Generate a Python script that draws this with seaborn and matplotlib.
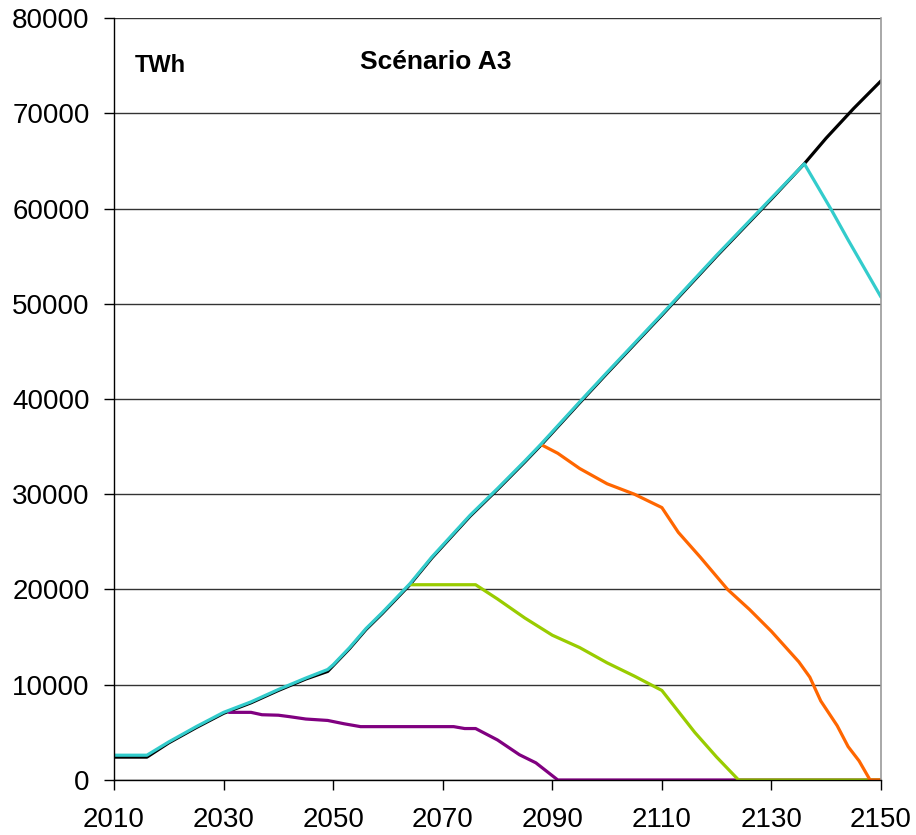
import matplotlib
matplotlib.use("Agg")
import matplotlib.pyplot as plt
import seaborn as sns

# courbe de base (noir)
base_years = [2010, 2016, 2020, 2025, 2030, 2035, 2040, 2045, 2049, 2050, 2053,
              2056, 2059, 2064, 2068, 2075, 2080, 2085, 2088, 2095, 2100, 2110,
              2120, 2130, 2136, 2140, 2145, 2150]
base_vals = [2400, 2400, 3900, 5500, 7000, 8100, 9400, 10600, 11400, 12000, 13800,
             15800, 17500, 20500, 23300, 27700, 30500, 33400, 35200, 39600, 42700,
             48800, 55000, 61000, 64700, 67400, 70500, 73400]

# scénario cyan
cyan_years = [2010, 2016, 2020, 2025, 2030, 2035, 2040, 2045, 2049, 2050, 2053,
              2056, 2059, 2064, 2068, 2075, 2080, 2085, 2088, 2095, 2100, 2110,
              2120, 2130, 2136, 2141, 2144, 2150]
cyan_vals = [2600, 2600, 4000, 5600, 7100, 8200, 9500, 10700, 11600, 12100, 13900,
             15900, 17600, 20600, 23400, 27800, 30600, 33500, 35300, 39700, 42800,
             48900, 55100, 61100, 64700, 59800, 56700, 50700]

# scénario orange
orange_years = [2088, 2091, 2095, 2100, 2105, 2110, 2113, 2117, 2122, 2126, 2130,
                2135, 2137, 2139, 2142, 2144, 2146, 2148, 2150]
orange_vals = [35200, 34300, 32700, 31100, 30000, 28600, 26000, 23400, 20000, 17900,
               15600, 12400, 10800, 8300, 5700, 3500, 2000, 0, 0]

# scénario vert
green_years = [2064, 2076, 2080, 2085, 2090, 2095, 2100, 2105, 2110, 2113, 2116,
               2120, 2124, 2150]
green_vals = [20500, 20500, 19000, 17000, 15200, 13900, 12300, 10900, 9400, 7200,
              5000, 2400, 0, 0]

# scénario violet
purple_years = [2031, 2035, 2037, 2040, 2042, 2045, 2049, 2052, 2055, 2072, 2074,
                2076, 2080, 2084, 2087, 2091, 2150]
purple_vals = [7100, 7100, 6850, 6800, 6650, 6400, 6250, 5900, 5600, 5600, 5400,
               5400, 4200, 2650, 1800, 0, 0]

x_ticks = [2010, 2030, 2050, 2070, 2090, 2110, 2130, 2150]
y_ticks = [0, 10000, 20000, 30000, 40000, 50000, 60000, 70000, 80000]

sns.set_style("white")
plt.rcParams['font.family'] = ['Liberation Sans', 'DejaVu Sans']
plt.rcParams['text.color'] = 'black'
plt.rcParams['xtick.color'] = 'black'
plt.rcParams['ytick.color'] = 'black'

fig = plt.figure(figsize=(9.16, 8.35), dpi=100)
ax = fig.add_axes([0.1245, 0.0659, 0.8373, 0.9125])

lw = 2.3
sns.lineplot(x=base_years, y=base_vals, color='black', linewidth=lw, ax=ax)
sns.lineplot(x=purple_years, y=purple_vals, color='#800080', linewidth=lw, ax=ax)
sns.lineplot(x=green_years, y=green_vals, color='#99CC00', linewidth=lw, ax=ax)
sns.lineplot(x=orange_years, y=orange_vals, color='#FF6600', linewidth=lw, ax=ax)
sns.lineplot(x=cyan_years, y=cyan_vals, color='#33CCCC', linewidth=lw, ax=ax)

ax.set_xlim(2010, 2150)
ax.set_ylim(0, 80000)
ax.set_xticks(x_ticks)
ax.set_yticks(y_ticks)
ax.tick_params(axis='both', labelsize=20, direction='out', length=7.5, width=1,
               color='black', labelcolor='black', left=True, bottom=True)
ax.tick_params(axis='y', pad=10)
ax.tick_params(axis='x', pad=12)
ax.yaxis.grid(True, color='#333333', linewidth=1)
ax.xaxis.grid(False)
ax.set_axisbelow(True)

for side in ['left', 'bottom']:
    ax.spines[side].set_color('black')
    ax.spines[side].set_linewidth(1)
ax.spines['right'].set_color('#999999')
ax.spines['right'].set_linewidth(1.2)
ax.spines['top'].set_visible(False)

ax.text(2013.8, 75000, 'TWh', fontsize=17, fontweight='bold', va='center', ha='left')
ax.text(2054.9, 75400, 'Scénario A3', fontsize=19, fontweight='bold', va='center', ha='left')

ax.set_xlabel('')
ax.set_ylabel('')

fig.savefig('out.png', dpi=100)
